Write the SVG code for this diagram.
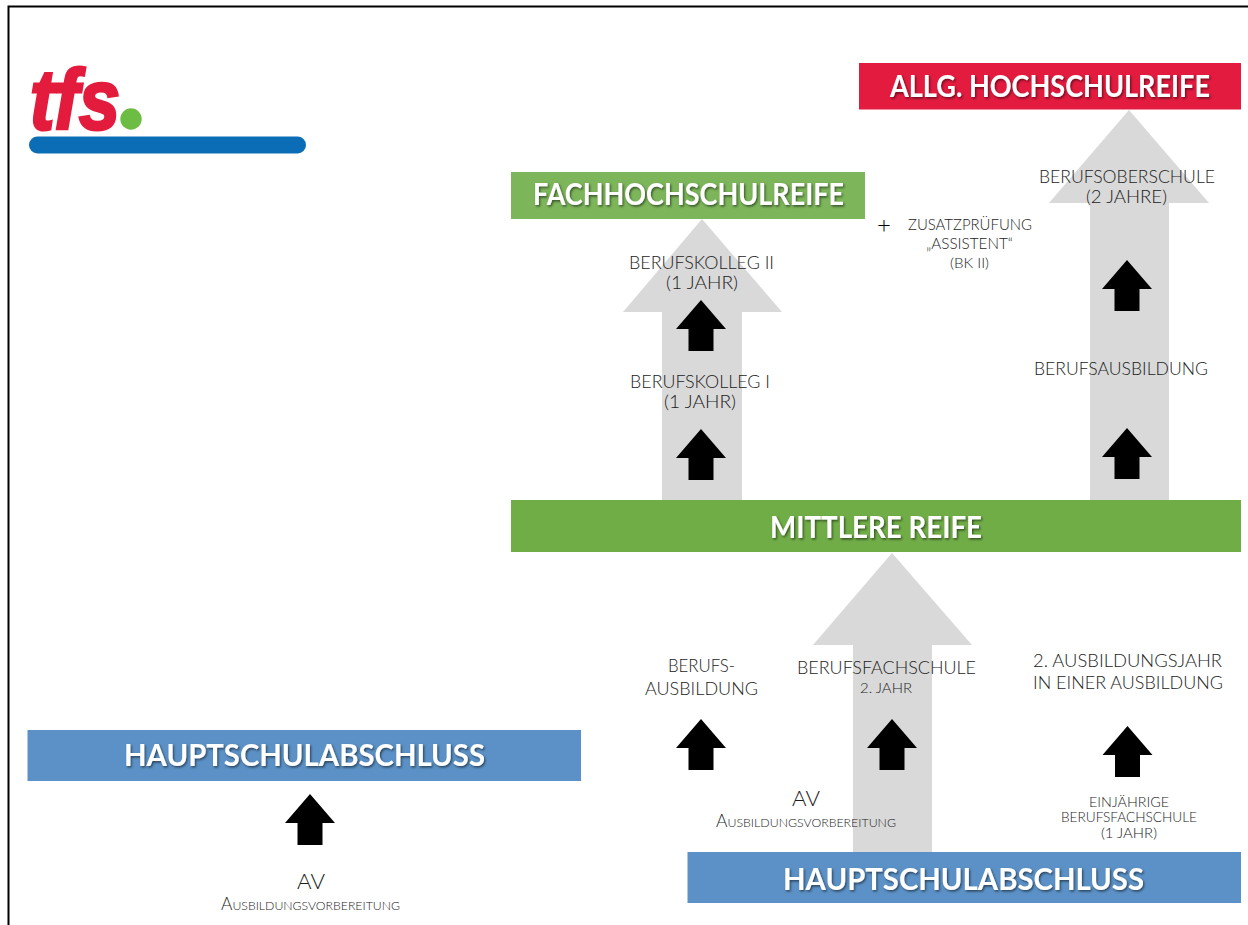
<svg xmlns="http://www.w3.org/2000/svg" width="1248" height="925" viewBox="0 0 1248 925">
<style>
text{font-family:"Lato","Open Sans","Liberation Sans",sans-serif;fill:#1c1c1c;font-weight:300}
.h{font-weight:700;font-size:30px;fill:#fff;filter:url(#sh)}
.l{font-size:18px}
.m{font-size:15.500px}
.s{font-size:14.500px}
.a{font-size:21px}
.k{font-size:17px;font-variant:small-caps}
.g{fill:#d9d9d9}
.b{fill:#000}
</style>
<defs>
<filter id="sh" x="-5%" y="-20%" width="110%" height="150%"><feDropShadow dx="1.2" dy="1.500" stdDeviation="1" flood-color="#000" flood-opacity=".55"/></filter>
<path id="ba" d="M0 0L25 29H12.500V51H-12.500V29H-25Z"/>
</defs>
<rect width="1248" height="925" fill="#fff"/>
<path d="M1248 6.500H8.500V925" fill="none" stroke="#000" stroke-width="2"/>
<g id="logo">
<text x="30" y="129" font-size="86" textLength="90" lengthAdjust="spacingAndGlyphs" style="font-family:'Liberation Sans',sans-serif;font-weight:700;font-style:italic;fill:#e31b3c;stroke:#e31b3c;stroke-width:3">tfs</text>
<circle cx="131" cy="119" r="10.700" fill="#6dbd45"/>
<rect x="29" y="136.500" width="277" height="17" rx="8.500" fill="#0b6db5"/>
</g>
<g id="connectors">
<path class="g" d="M702 219L782 312H742V500H662V312H623Z"/>
<path class="g" d="M1129 110L1209 203H1169V500H1090V203H1049Z"/>
<path class="g" d="M892 553L972 645H932V852H853V645H813Z"/>
<use class="b" href="#ba" x="701" y="300"/>
<use class="b" href="#ba" x="701" y="429"/>
<use class="b" href="#ba" x="1127" y="260"/>
<use class="b" href="#ba" x="1127" y="428"/>
<use class="b" href="#ba" x="701" y="719"/>
<use class="b" href="#ba" x="892" y="719"/>
<use class="b" href="#ba" x="1127.500" y="726"/>
<use class="b" href="#ba" x="310" y="794"/>
</g>
<g id="allg-hochschulreife"><rect x="859" y="63" width="382" height="46.500" fill="#e31b3f"/><text class="h" x="890" y="97" textLength="320" lengthAdjust="spacingAndGlyphs">ALLG. HOCHSCHULREIFE</text></g>
<g id="fachhochschulreife"><rect x="511" y="172" width="354" height="47" fill="#7cb55a"/><text class="h" x="533" y="205" textLength="311" lengthAdjust="spacingAndGlyphs">FACHHOCHSCHULREIFE</text></g>
<g id="mittlere-reife"><rect x="511" y="500" width="730" height="52" fill="#70ad47"/><text class="h" x="770" y="538" textLength="212" lengthAdjust="spacingAndGlyphs">MITTLERE REIFE</text></g>
<g id="hauptschulabschluss-links"><rect x="27.500" y="730" width="553.500" height="51" fill="#5b91c6"/><text class="h" x="124" y="766" textLength="361" lengthAdjust="spacingAndGlyphs">HAUPTSCHULABSCHLUSS</text></g>
<g id="hauptschulabschluss-rechts"><rect x="687.500" y="852" width="553.500" height="51" fill="#5b91c6"/><text class="h" x="783" y="890" textLength="361" lengthAdjust="spacingAndGlyphs">HAUPTSCHULABSCHLUSS</text></g>
<g id="berufskolleg-2"><text class="l" x="629" y="269" textLength="145" lengthAdjust="spacingAndGlyphs">BERUFSKOLLEG II</text><text class="l" x="666" y="289" textLength="72" lengthAdjust="spacingAndGlyphs">(1 JAHR)</text></g>
<g id="berufskolleg-1"><text class="l" x="630" y="388" textLength="140" lengthAdjust="spacingAndGlyphs">BERUFSKOLLEG I</text><text class="l" x="664" y="408" textLength="72" lengthAdjust="spacingAndGlyphs">(1 JAHR)</text></g>
<g id="zusatzpruefung"><text x="877" y="233" font-size="24" style="fill:#000">+</text><text class="m" x="908" y="230" textLength="124" lengthAdjust="spacingAndGlyphs">ZUSATZPRÜFUNG</text><text class="m" x="926" y="249" textLength="87" lengthAdjust="spacingAndGlyphs">„ASSISTENT“</text><text class="s" x="950" y="268" textLength="39" lengthAdjust="spacingAndGlyphs">(BK II)</text></g>
<g id="berufsoberschule"><text class="l" x="1039" y="183" textLength="176" lengthAdjust="spacingAndGlyphs">BERUFSOBERSCHULE</text><text class="l" x="1086" y="203" textLength="81" lengthAdjust="spacingAndGlyphs">(2 JAHRE)</text></g>
<g id="berufsausbildung"><text class="l" x="1034" y="375" textLength="174" lengthAdjust="spacingAndGlyphs">BERUFSAUSBILDUNG</text></g>
<g id="berufs-ausbildung"><text class="l" x="668" y="672" textLength="67" lengthAdjust="spacingAndGlyphs">BERUFS-</text><text class="l" x="645" y="695" textLength="113" lengthAdjust="spacingAndGlyphs">AUSBILDUNG</text></g>
<g id="berufsfachschule"><text class="l" x="797" y="674" textLength="179" lengthAdjust="spacingAndGlyphs">BERUFSFACHSCHULE</text><text class="s" x="860" y="693" textLength="52" lengthAdjust="spacingAndGlyphs">2. JAHR</text></g>
<g id="ausbildungsjahr"><text class="l" x="1033" y="667" textLength="189" lengthAdjust="spacingAndGlyphs">2. AUSBILDUNGSJAHR</text><text class="l" x="1033" y="689" textLength="190" lengthAdjust="spacingAndGlyphs">IN EINER AUSBILDUNG</text></g>
<g id="av-rechts"><text class="a" x="792" y="806" textLength="28" lengthAdjust="spacingAndGlyphs">AV</text><text class="k" x="716" y="827" textLength="180" lengthAdjust="spacingAndGlyphs">Ausbildungsvorbereitung</text></g>
<g id="einjaehrige"><text class="s" x="1089" y="807" textLength="80" lengthAdjust="spacingAndGlyphs">EINJÄHRIGE</text><text class="s" x="1061" y="822" textLength="136" lengthAdjust="spacingAndGlyphs">BERUFSFACHSCHULE</text><text class="s" x="1101" y="838" textLength="56" lengthAdjust="spacingAndGlyphs">(1 JAHR)</text></g>
<g id="av-links"><text class="a" x="297" y="889" textLength="28" lengthAdjust="spacingAndGlyphs">AV</text><text class="k" x="221" y="910" textLength="179" lengthAdjust="spacingAndGlyphs">Ausbildungsvorbereitung</text></g>
</svg>
